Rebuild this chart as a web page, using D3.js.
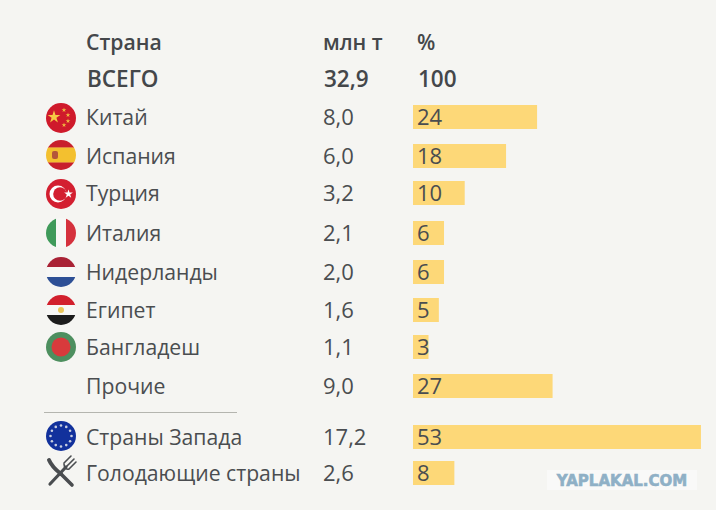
<!DOCTYPE html>
<html lang="ru">
<head>
<meta charset="UTF-8">
<title>Страны</title>
<script src="https://d3js.org/d3.v7.min.js"></script>
<style>
  html, body { margin: 0; background: #f5f5f2; }
  svg { display: block; }
  text { font-family: "Open Sans", sans-serif; fill: #4a4d50; font-size: 21.2px; }
  .head { font-weight: 600; fill: #44474a; }
  .num { font-size: 22px; }
</style>
</head>
<body>
<svg width="716" height="510"></svg>
<script>
const countries = ["Китай", "Испания", "Турция", "Италия", "Нидерланды", "Египет", "Бангладеш", "Прочие", "Страны Запада", "Голодающие страны"];
const tonnes = ["8,0", "6,0", "3,2", "2,1", "2,0", "1,6", "1,1", "9,0", "17,2", "2,6"];
const percents = [24, 18, 10, 6, 6, 5, 3, 27, 53, 8];
// bar lengths as drawn in the picture, the 53 bar runs longer than its label
const barLengths = [24, 18, 10, 6, 6, 5, 3, 27, 55.7, 8];
const headers = ["Страна", "млн т", "%"];
const totals = ["ВСЕГО", "32,9", "100"];

const svg = d3.select("svg");
const defs = svg.append("defs");

const y = d3.scaleOrdinal()
  .domain(countries)
  .range([117, 156, 193, 233, 272, 310, 347, 386, 437, 473]);
const x = d3.scaleLinear().domain([0, 53]).range([413, 687]);
const colX = [86, 323, 417];
const barH = 24;

// header rows
svg.selectAll(".h1").data(headers).enter().append("text")
  .attr("class", "head")
  .attr("x", (d, i) => colX[i])
  .attr("y", 50)
  .text(d => d);
svg.selectAll(".h2").data(totals).enter().append("text")
  .attr("class", "head")
  .style("font-size", "22.5px")
  .attr("x", (d, i) => colX[i] + 1)
  .attr("y", 87)
  .text(d => d);

// bars
svg.selectAll(".bar").data(countries).enter().append("rect")
  .attr("x", x(0))
  .attr("y", d => y(d) - barH / 2)
  .attr("width", (d, i) => x(barLengths[i]) - x(0))
  .attr("height", barH)
  .attr("fill", "#fdd878");

// rows
const row = svg.selectAll(".row").data(countries).enter().append("g")
  .attr("transform", d => `translate(0,${y(d) + 7.5})`);
row.append("text").attr("x", colX[0]).text(d => d);
row.append("text").attr("class", "num").attr("x", colX[1]).text((d, i) => tonnes[i]);
row.append("text").attr("class", "num").attr("x", colX[2]).text((d, i) => percents[i]);

// separator
svg.append("line")
  .attr("x1", 44).attr("x2", 237)
  .attr("y1", 412.5).attr("y2", 412.5)
  .attr("stroke", "#b4b5af").attr("stroke-width", 1.2);

// flags
const r = 15;
let clipN = 0;
function flag(cx, cy) {
  const id = "clip" + clipN++;
  defs.append("clipPath").attr("id", id).append("circle").attr("r", r);
  return svg.append("g").attr("transform", `translate(${cx},${cy})`)
    .append("g").attr("clip-path", `url(#${id})`);
}
const fill = (g, c) => g.append("rect").attr("x", -r).attr("y", -r).attr("width", 2 * r).attr("height", 2 * r).attr("fill", c);
const stripesH = (g, cols) => cols.forEach((c, i) => {
  g.append("rect").attr("x", -r).attr("width", 2 * r)
    .attr("y", -r + i * 2 * r / cols.length).attr("height", 2 * r / cols.length + .3).attr("fill", c);
});
const star = (g, size, sx, sy, c) => g.append("path")
  .attr("d", d3.symbol(d3.symbolStar, size))
  .attr("transform", `translate(${sx},${sy})`)
  .attr("fill", c);

const flagX = 61;

let f = flag(flagX, 118);
fill(f, "#cf1a2b");
star(f, 50, -7, -1, "#f6c944");
[[3, -8], [7, -3], [7, 3], [3, 7]].forEach(p => star(f, 7, p[0], p[1], "#f0b840"));

f = flag(flagX, 155);
stripesH(f, ["#c8202c", "#f3c02f", "#f3c02f", "#c8202c"]);
f.append("rect").attr("x", -9).attr("y", -4).attr("width", 6).attr("height", 8).attr("rx", 2).attr("fill", "#b4553a");

f = flag(flagX, 194);
fill(f, "#d31f30");
f.append("circle").attr("cx", -3).attr("r", 8.5).attr("fill", "#fff");
f.append("circle").attr("cx", -1).attr("r", 6.8).attr("fill", "#d31f30");
star(f, 24, 7.5, 0, "#fff");

f = flag(flagX, 233);
[["#3f9a5a", -r], ["#f7f7f5", -5], ["#d5313d", 5]].forEach(d => {
  f.append("rect").attr("x", d[1]).attr("y", -r).attr("width", 10).attr("height", 2 * r).attr("fill", d[0]);
});

f = flag(flagX, 272);
stripesH(f, ["#a92235", "#f7f7f5", "#2d4f95"]);

f = flag(flagX, 310);
stripesH(f, ["#d2202c", "#f7f7f5", "#1c1c1c"]);
f.append("circle").attr("r", 3).attr("fill", "#e9c65a");

f = flag(flagX, 347);
fill(f, "#4d8f5f");
f.append("circle").attr("r", 9.5).attr("fill", "#d83a3c");

f = flag(flagX, 436);
fill(f, "#12319c");
d3.range(12).forEach(i => {
  const a = i / 12 * 2 * Math.PI;
  f.append("circle").attr("cx", 10.5 * Math.cos(a)).attr("cy", 10.5 * Math.sin(a)).attr("r", 1.3).attr("fill", "#c9cfe0");
});

// fork and knife
const icon = svg.append("g").attr("transform", "translate(61,472)")
  .attr("stroke", "#4a4d50").attr("fill", "none").attr("stroke-linecap", "round");
icon.append("path").attr("d", "M-1,1 L11,13").attr("stroke-width", 3.6);
icon.append("path").attr("d", "M-12,-12 C-9,-5 -5,-2 0,2").attr("stroke-width", 4);
icon.append("path").attr("d", "M-11,12 L5,-5").attr("stroke-width", 3.2);
icon.append("path").attr("d", "M3,-9 L10,-16 M6,-6 L13,-13 M8,-3 L15,-10 M3,-8 C3,-4 6,-2 8,-3").attr("stroke-width", 1.6);

// watermark
svg.append("rect").attr("x", 547).attr("y", 470).attr("width", 150).attr("height", 20).attr("fill", "#f9f9f8");
svg.append("text")
  .attr("x", 622).attr("y", 486)
  .attr("text-anchor", "middle")
  .style("font-family", "'DejaVu Sans', sans-serif")
  .style("font-weight", "700")
  .style("font-size", "15px")
  .style("fill", "#8fb0c6")
  .style("stroke", "#8fb0c6")
  .style("stroke-width", "0.6px")
  .text("YAPLAKAL.COM");
</script>
</body>
</html>
